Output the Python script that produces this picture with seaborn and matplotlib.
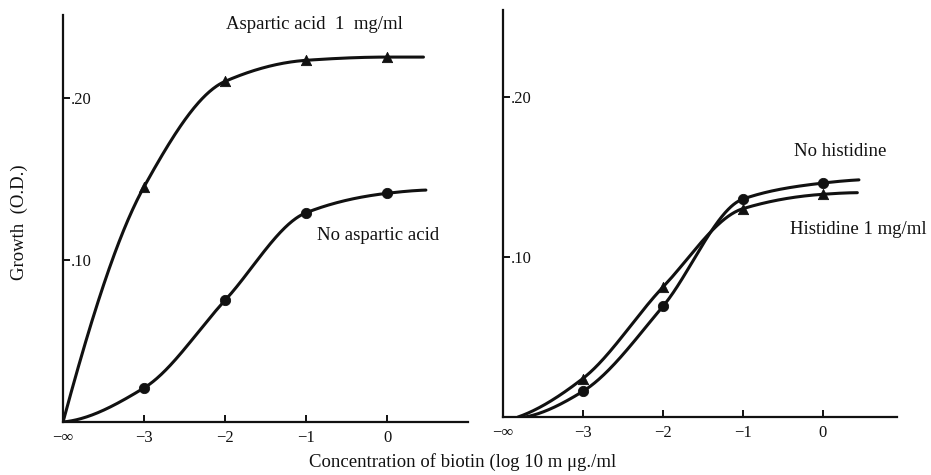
import numpy as np
import pandas as pd
import matplotlib
matplotlib.use("Agg")
import matplotlib.pyplot as plt
import seaborn as sns

# Biotin concentration (log10 mµg/ml) at which growth was measured
conc = [-3, -2, -1, 0]
tick_labels = ["\u22123", "\u22122", "\u22121", "0"]

# Growth (O.D.) readings
aspartic_1mg = [0.145, 0.210, 0.223, 0.225]
no_aspartic = [0.021, 0.075, 0.129, 0.141]
no_histidine = [0.016, 0.069, 0.136, 0.146]
histidine_1mg = [0.024, 0.081, 0.130, 0.139]

# Where each hand-drawn curve begins (on the baseline) and ends (plateau)
aspartic_ends = [(-4.0, 0.0), (0.45, 0.225)]
no_aspartic_ends = [(-4.0, 0.0), (0.48, 0.143)]
no_histidine_ends = [(-3.72, 0.0), (0.45, 0.148)]
histidine_ends = [(-3.81, 0.0), (0.43, 0.140)]


def pchip(xk, yk, xs):
    """Monotone piecewise-cubic curve through the given nodes."""
    xk = np.asarray(xk, float)
    yk = np.asarray(yk, float)
    h = np.diff(xk)
    d = np.diff(yk) / h
    m = np.zeros_like(yk)
    for i in range(1, len(xk) - 1):
        if d[i - 1] * d[i] > 0:
            w1 = 2 * h[i] + h[i - 1]
            w2 = h[i] + 2 * h[i - 1]
            m[i] = (w1 + w2) / (w1 / d[i - 1] + w2 / d[i])
    m[0] = ((2 * h[0] + h[1]) * d[0] - h[0] * d[1]) / (h[0] + h[1])
    if np.sign(m[0]) != np.sign(d[0]):
        m[0] = 0
    m[-1] = ((2 * h[-1] + h[-2]) * d[-1] - h[-1] * d[-2]) / (h[-1] + h[-2])
    if np.sign(m[-1]) != np.sign(d[-1]):
        m[-1] = 0
    idx = np.clip(np.searchsorted(xk, xs) - 1, 0, len(xk) - 2)
    t = (xs - xk[idx]) / h[idx]
    h00 = 2 * t**3 - 3 * t**2 + 1
    h10 = t**3 - 2 * t**2 + t
    h01 = -2 * t**3 + 3 * t**2
    h11 = t**3 - t**2
    return (h00 * yk[idx] + h10 * h[idx] * m[idx]
            + h01 * yk[idx + 1] + h11 * h[idx] * m[idx + 1])


def curve(values, ends):
    xk = [ends[0][0]] + conc + [ends[1][0]]
    yk = [ends[0][1]] + values + [ends[1][1]]
    xs = np.linspace(xk[0], xk[-1], 400)
    return pd.DataFrame({"x": xs, "y": pchip(xk, yk, xs)})


sns.set_style("ticks")
plt.rcParams["font.family"] = ["Liberation Serif", "DejaVu Serif"]
plt.rcParams["axes.linewidth"] = 1.6

fig = plt.figure(figsize=(9.31, 4.75), dpi=100)
ax1 = fig.add_axes([0.0677, 0.1116, 0.435, 0.857])
ax2 = fig.add_axes([0.540, 0.122, 0.423, 0.857])

ink = "#111111"
line_kw = dict(color=ink, linewidth=2.2, legend=False)
mark_kw = dict(color=ink, edgecolor=ink, s=55, legend=False, zorder=3)
label_fs = 13.5

pts = pd.DataFrame({"x": conc, "asp": aspartic_1mg, "noasp": no_aspartic,
                    "nohis": no_histidine, "his": histidine_1mg})

# Left panel: aspartic acid
sns.lineplot(data=curve(aspartic_1mg, aspartic_ends), x="x", y="y", ax=ax1, **line_kw)
sns.lineplot(data=curve(no_aspartic, no_aspartic_ends), x="x", y="y", ax=ax1, **line_kw)
sns.scatterplot(data=pts, x="x", y="asp", marker="^", ax=ax1, **mark_kw)
sns.scatterplot(data=pts, x="x", y="noasp", marker="o", ax=ax1, **mark_kw)
ax1.set_xlim(-4, 1.0)
ax1.set_ylim(0, 0.251)
ax1.text(-0.89, 0.245, "Aspartic acid  1  mg/ml", ha="center", va="center",
         fontsize=label_fs, color=ink)
ax1.text(-0.11, 0.115, "No aspartic acid", ha="center", va="center",
         fontsize=label_fs, color=ink)

# Right panel: histidine
sns.lineplot(data=curve(no_histidine, no_histidine_ends), x="x", y="y", ax=ax2, **line_kw)
sns.lineplot(data=curve(histidine_1mg, histidine_ends), x="x", y="y", ax=ax2, **line_kw)
sns.scatterplot(data=pts, x="x", y="nohis", marker="o", ax=ax2, **mark_kw)
sns.scatterplot(data=pts, x="x", y="his", marker="^", ax=ax2, **mark_kw)
ax2.set_xlim(-4, 0.92)
ax2.set_ylim(0, 0.254)
ax2.text(0.21, 0.166, "No histidine", ha="center", va="center",
         fontsize=label_fs, color=ink)
ax2.text(1.29, 0.117, "Histidine 1 mg/ml", ha="right", va="center",
         fontsize=label_fs, color=ink, clip_on=False)

for ax in (ax1, ax2):
    sns.despine(ax=ax)
    ax.spines["left"].set_color(ink)
    ax.spines["bottom"].set_color(ink)
    ax.set_xlabel("")
    ax.set_ylabel("")
    ax.set_xticks([-4] + conc)
    ax.set_xticklabels(["\u2212\u221e"] + tick_labels, fontsize=12)
    ax.tick_params(axis="x", direction="in", length=5, width=1.4, pad=6, colors=ink)
    ax.set_yticks([0.10, 0.20])
    ax.set_yticklabels([".10", ".20"], fontsize=12)
    ax.tick_params(axis="y", direction="in", length=5, width=1.4, pad=-6, colors=ink)
    for lab in ax.get_yticklabels():
        lab.set_horizontalalignment("left")
    ax.xaxis.get_major_ticks()[0].tick1line.set_visible(False)

fig.text(0.021, 0.533, "Growth  (O.D.)", rotation=90, ha="center", va="center",
         fontsize=label_fs, color=ink)
fig.text(0.497, 0.027, "Concentration of biotin (log 10 m \u03bcg./ml", ha="center",
         va="center", fontsize=label_fs, color=ink)

fig.savefig("out.png", dpi=100, facecolor="white")
